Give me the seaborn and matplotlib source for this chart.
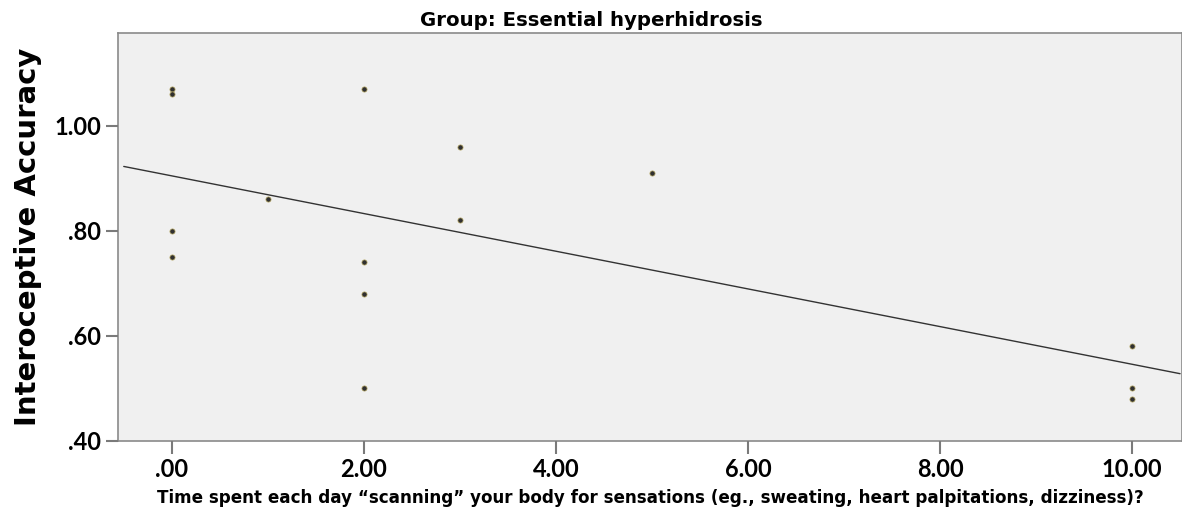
import matplotlib
matplotlib.use("Agg")
import matplotlib.pyplot as plt
import seaborn as sns
import pandas as pd

# Data
time_scanning = [0, 0, 0, 0, 1, 2, 2, 2, 2, 3, 3, 5, 10, 10, 10]
accuracy = [1.07, 1.06, 0.80, 0.75, 0.86, 1.07, 0.74, 0.68, 0.50, 0.96, 0.82, 0.91, 0.58, 0.50, 0.48]
x_ticks = [0, 2, 4, 6, 8, 10]
x_tick_labels = [".00", "2.00", "4.00", "6.00", "8.00", "10.00"]
y_ticks = [0.40, 0.60, 0.80, 1.00]
y_tick_labels = [".40", ".60", ".80", "1.00"]

df = pd.DataFrame({"x": time_scanning, "y": accuracy})

sns.set_style("ticks")
plt.rcParams["font.family"] = ["Lato", "DejaVu Sans"]
plt.rcParams["text.color"] = "black"
plt.rcParams["axes.labelcolor"] = "black"

fig = plt.figure(figsize=(11.82, 5.24), dpi=100)
ax = fig.add_axes([118 / 1182, 83 / 524, 1064 / 1182, 408 / 524])
ax.set_facecolor("#f0f0f0")
ax.set_axisbelow(False)

sns.regplot(data=df, x="x", y="y", ax=ax, ci=None, truncate=False,
            scatter_kws=dict(s=14, color="black", edgecolors="#b8a860", linewidths=0.6, zorder=3),
            line_kws=dict(color="#333333", linewidth=1.0))

ax.set_xlim(-0.56, 10.52)
ax.set_ylim(0.40, 1.177)
ax.set_xticks(x_ticks, labels=x_tick_labels)
ax.set_yticks(y_ticks, labels=y_tick_labels)

for sp in ax.spines.values():
    sp.set_visible(True)
    sp.set_color("#8a8a8a")
    sp.set_linewidth(1.2)

ax.tick_params(axis="both", which="major", direction="out", length=9, width=1.5,
               color="#7a7a7a", labelsize=17, pad=3, bottom=True, left=True,
               top=False, right=False, labelcolor="black")
for lbl in ax.get_xticklabels() + ax.get_yticklabels():
    lbl.set_fontweight("bold")

ax.set_xlabel("Time spent each day \u201cscanning\u201d your body for sensations (eg., sweating, heart palpitations, dizziness)?",
              fontsize=12.1, fontweight="bold", labelpad=6, family=["DejaVu Sans"])
ax.set_ylabel("Interoceptive Accuracy", fontsize=21, fontweight="bold", labelpad=9,
              family=["DejaVu Sans"])

fig.text(0.5, 0.960, "Group: Essential hyperhidrosis", ha="center", va="center",
         fontsize=14.2, fontweight="bold", family=["DejaVu Sans"])

fig.savefig("out.png", dpi=100, facecolor="white")
